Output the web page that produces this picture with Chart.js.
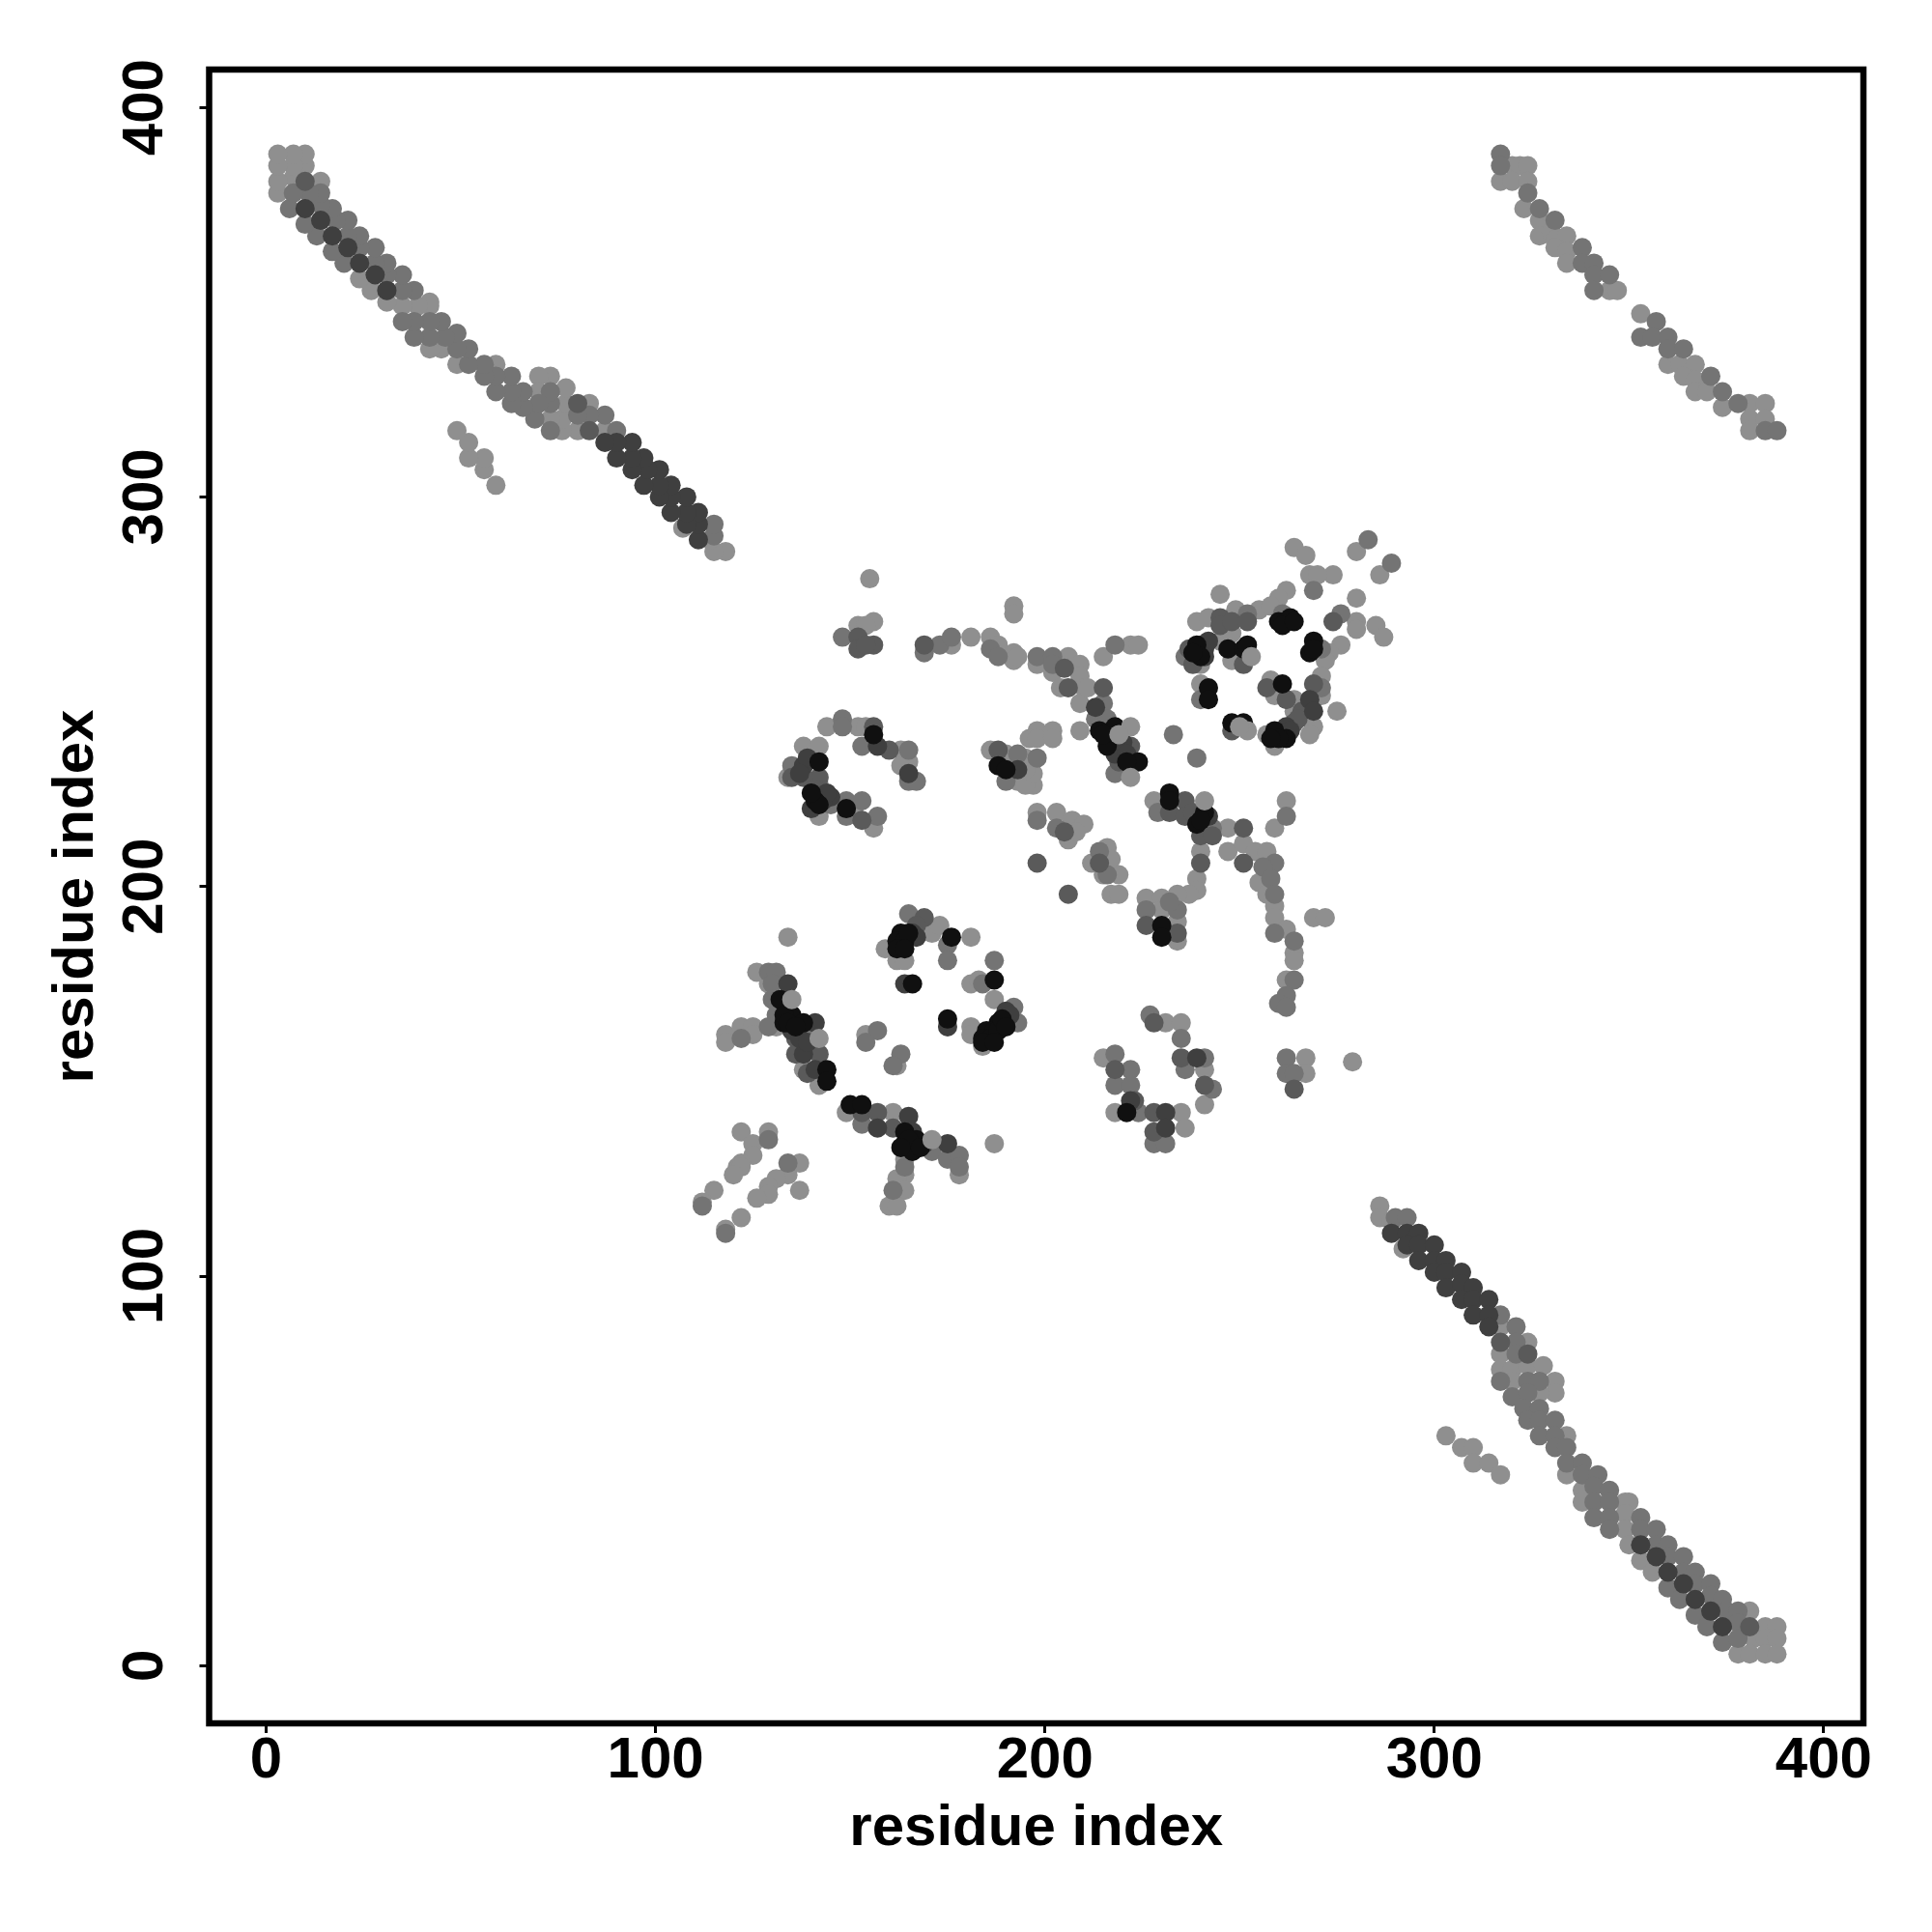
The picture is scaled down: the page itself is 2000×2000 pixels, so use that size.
<!DOCTYPE html>
<html>
<head>
<meta charset="utf-8">
<title>residue contact map</title>
<script src="https://cdn.jsdelivr.net/npm/chart.js@4"></script>
<style>
  html, body { margin: 0; padding: 0; background: #fff; }
  canvas { display: block; }
</style>
</head>
<body>
<canvas id="myChart" width="2000" height="2000"></canvas>
<script>
var tickValues = [0, 100, 200, 300, 400];
var axisTitle = 'residue index';

// points, [x, y], one list per grey level
var light = [
  // top left band
  [118,286],[115,286],[114,289],[107,292],[87,317],[83,324],[80,317],[76,317],[76,320],[77,324],[77,328],[73,331],[70,331],[73,320],[70,327],[59,334],[49,334],[45,338],[42,338],[42,349],[42,350],[39,349],[35,349],[31,350],[27,353],[24,356],[14,381],[10,385],[10,388],[7,382],[7,385],[7,388],[3,378],[3,381],[3,385],[3,388],
  [59,303],[56,307],[56,310],[52,310],[52,314],[49,317],
  // bottom right band
  [286,118],[286,115],[289,114],[292,107],[317,87],[324,83],[317,80],[317,76],[320,76],[324,77],[328,77],[331,73],[331,70],[320,73],[327,70],[334,59],[334,49],[338,45],[338,42],[349,42],[350,42],[349,39],[349,35],[350,31],[353,27],[356,24],[381,14],[385,10],[388,10],[382,7],[385,7],[388,7],[378,3],[381,3],[385,3],[388,3],
  [303,59],[307,56],[310,56],[310,52],[314,52],[317,49],
  // top right band
  [320,385],[322,385],[324,385],[317,381],[320,381],[324,381],[323,374],[327,371],[327,367],[330,368],[331,366],[334,367],[331,364],[334,363],[334,360],[345,353],[347,353],[353,347],[360,334],[363,334],[367,334],[364,331],[367,330],[367,327],[370,327],[374,323],[381,324],[385,324],[381,320],[385,320],[381,317],
  // centre, upper left
  [155,279],[152,267],[156,268],[154,267],[176,262],[192,272],[192,270],[181,264],[186,264],[188,262],[192,260],[192,258],[193,259],[198,257],[202,255],[206,259],[209,257],[209,254],[204,251],[210,251],[209,247],[211,251],[215,259],[222,262],[224,262],
  [198,240],[196,238],[198,238],[202,240],[202,238],[209,240],[186,235],[190,234],[195,233],[193,227],[197,226],[195,226],[197,229],[191,231],[195,230],
  [198,219],[203,219],[207,217],[206,212],[210,216],[208,214],[216,210],[212,206],[217,207],[215,203],[219,203],[217,198],[219,198],
  [144,241],[152,241],[154,241],[163,235],[165,232],[163,231],[138,236],[142,236],[134,228],[142,218],[156,215],[151,220],
  // centre, upper right
  [264,287],[267,285],[280,286],[286,280],[274,280],[268,280],[270,280],[262,276],[260,274],[245,275],[280,274],[239,268],[242,269],[249,271],[255,271],[258,272],[280,268],[280,266],[285,267],[287,264],
  [240,257],[245,263],[248,265],[248,258],[276,262],[273,260],[272,258],[271,254],[271,249],[269,241],[268,239],[275,245],[240,252],[258,253],[259,249],[264,248],[264,245],[257,239],[259,236],
  [228,222],[247,215],[247,209],[251,211],[254,209],[257,209],[255,201],[257,198],[262,222],[259,215],[240,209],[239,202],[239,199],[237,198],[259,195],
  [226,197],[230,197],[230,194],[234,198],[234,191],[234,186],[259,192],[262,189],[264,183],[264,181],[262,176],[269,192],[272,192],
  // centre, lower right
  [231,165],[235,165],[241,153],[241,144],[215,156],[218,142],[235,142],[236,138],[267,156],[267,152],[279,155],
  // centre, lower left
  [134,187],[126,178],[129,175],[131,164],[118,162],[118,160],[122,164],[125,164],[125,162],[154,162],[162,154],[138,153],[142,149],
  [159,184],[162,181],[164,181],[171,188],[173,190],[181,187],[181,175],[183,176],[187,171],[181,164],[181,162],[184,159],
  [149,142],[161,142],[178,126],[164,130],[164,126],[162,125],[164,122],[160,118],[162,118],[187,134],
  [122,137],[129,137],[125,134],[125,131],[122,129],[121,128],[122,128],[120,126],[137,129],[134,126],[131,125],[129,123],[129,121],[126,120],[137,122],[115,122],[112,119],[122,115],[118,112]
];
var mid = [
  // top left band
  [115,290],[115,293],[90,317],[87,321],[83,321],[80,321],[73,317],[73,324],[73,327],[69,320],[70,324],[66,323],[66,327],[63,324],[63,327],[63,331],[59,327],[59,331],[56,331],[56,334],[52,334],[52,338],[49,338],[49,342],[46,341],[45,345],[42,341],[42,345],[38,341],[38,345],[35,345],[38,353],[35,353],[35,357],[31,353],[31,357],[31,360],[28,360],[28,364],[24,364],[24,367],[20,360],[21,367],[21,371],[17,363],[18,371],[17,374],[13,367],[14,375],[14,378],[10,370],[11,378],[6,374],[7,378],
  // bottom right band
  [290,115],[293,115],[317,90],[321,87],[321,83],[321,80],[317,73],[324,73],[327,73],[320,69],[324,70],[323,66],[327,66],[324,63],[327,63],[331,63],[327,59],[331,59],[331,56],[334,56],[334,52],[338,52],[338,49],[342,49],[341,46],[345,45],[341,42],[345,42],[341,38],[345,38],[345,35],[353,38],[353,35],[357,35],[353,31],[357,31],[360,31],[360,28],[364,28],[364,24],[367,24],[360,20],[367,21],[371,21],[363,17],[371,18],[374,17],[367,13],[375,14],[378,14],[370,10],[378,11],[374,6],[378,7],
  // top right band
  [317,388],[317,385],[324,378],[327,374],[331,371],[338,364],[338,360],[341,360],[341,357],[345,357],[341,353],[353,341],[357,345],[356,341],[360,341],[360,338],[364,338],[371,331],[374,327],[378,324],[385,317],[388,317],
  // centre, upper left
  [148,264],[169,260],[173,262],[176,264],[186,261],[188,259],[198,259],[202,259],[202,257],[215,247],[213,243],[216,243],[218,229],[218,262],
  [193,234],[198,233],[190,227],[198,217],[203,215],[214,209],[216,203],
  [148,243],[148,241],[153,236],[165,235],[165,227],[167,227],[135,231],[142,226],[145,221],[149,222],[149,218],[153,222],[157,218],
  // centre, upper right
  [283,289],[289,283],[269,276],[252,270],[261,270],[276,270],[236,259],[271,261],[271,251],[240,248],[229,219],[243,215],[259,206],[256,205],[258,202],[259,198],[262,218],
  [233,239],[239,233],[226,194],[234,194],[232,196],[259,188],[264,186],[264,176],[262,172],[260,170],[262,169],
  // centre, lower right
  [227,167],[235,161],[236,153],[241,156],[243,148],[218,157],[222,153],[218,149],[222,149],[224,142],[228,134],[231,134],[262,156],[262,152],[264,152],
  // centre, lower left
  [129,178],[131,178],[130,175],[130,171],[131,167],[138,163],[122,161],[129,164],[157,163],[154,160],[163,157],[161,154],
  [165,193],[175,185],[175,181],[187,181],[184,175],[192,169],[193,165],
  [153,139],[171,132],[175,130],[178,131],[178,128],[164,128],[161,122],[129,135],[134,129],[112,118],[118,111]
];
var semi = [
  [317,83],[324,80],[381,10],[83,317],[80,324],[10,381],
  [152,264],[152,261],[156,262],[154,262],[169,262],[205,256],[206,251],[215,251],[222,236],[219,232],[188,235],[198,206],[206,198],[205,214],[214,206],[156,241],[160,235],[142,228],[135,228],[138,228],[141,225],[153,217],
  [245,269],[245,267],[248,268],[252,268],[274,268],[238,257],[251,257],[269,252],[257,251],[262,248],[266,245],[248,240],[264,242],[232,219],[236,222],[236,218],[240,213],[251,215],[251,206],[240,206],
  [226,190],[234,188],[264,148],[228,165],[235,156],[241,149],[218,153],[223,145],[228,142],[228,137],
  [136,161],[142,157],[136,157],[139,152],[169,192],[167,190],[153,142],[157,142],[161,138],
  [237,261],[265,243],[219,236],[243,213],[238,219]
];
var dark = [
  // top left band
  [111,289],[111,293],[111,296],[108,293],[108,296],[108,300],[104,296],[104,300],[104,303],[101,300],[101,303],[101,307],[97,303],[98,307],[97,310],[94,307],[94,310],[94,314],[90,310],[90,314],[87,314],[31,353],[28,357],[24,360],[21,364],[17,367],[14,371],[10,374],
  // bottom right band
  [289,111],[293,111],[296,111],[293,108],[296,108],[300,108],[296,104],[300,104],[303,104],[300,101],[303,101],[307,101],[303,97],[307,98],[310,97],[307,94],[310,94],[314,94],[310,90],[314,90],[314,87],[353,31],[357,28],[360,24],[364,21],[367,17],[371,14],[374,10],
  // centre
  [213,246],[218,234],[193,230],[157,236],[138,231],[145,223],[165,229],[241,261],[268,248],[269,245],[262,241],[231,142],[231,138],[239,156],[222,145],[134,175],[141,165],[138,157],[141,153],[166,188],[157,138],[165,141],[175,134],[164,175],[175,164],[190,168],
  [240,262],[242,263],[241,259],[261,239],[263,240],[167,187],[163,187],[191,167],[166,137],[169,134],[135,163],[137,161],[139,160],[217,240],[220,237],[221,234],[242,218],[143,222],[144,224],[140,220],[139,233],[137,229]
];
var black = [
  [218,241],[214,240],[224,232],[221,232],[188,231],[190,230],[156,239],[142,232],[141,222],[142,221],[149,220],
  [263,269],[260,268],[262,268],[239,262],[240,259],[247,261],[251,261],[252,262],[269,263],[268,260],[242,251],[242,248],[261,252],[248,242],[251,242],[259,240],[262,238],[232,224],[232,222],[241,219],[239,216],[230,190],[230,187],[221,142],
  [132,171],[135,167],[133,165],[138,165],[144,153],[144,150],[163,188],[163,185],[162,186],[176,187],[166,175],[187,176],[188,165],[185,163],[187,163],[184,161],[186,161],[175,166],[150,144],[153,144],[164,137],[164,134],[167,135],[166,132],
  [238,260],[260,238],[258,238],[269,261],[261,267],[264,268],[164,186],[165,188],[162,184],[164,184],[188,163],[184,160],[187,160],[189,166],[190,164],[165,135],[163,133],[168,133],[133,167],[134,165],[136,164],[216,236],[215,239],[240,217],[140,224]
];
var lightTop = [
  [222,241],[219,239],[222,228],[253,259],[252,240],[250,241],[241,222],[135,171],[142,161],[171,135]
];

var shades = [
  { points: light, color: '#8f8f8f', order: 6 },
  { points: mid, color: '#747474', order: 5 },
  { points: semi, color: '#5a5a5a', order: 4 },
  { points: dark, color: '#3f3f3f', order: 3 },
  { points: black, color: '#101010', order: 2 },
  { points: lightTop, color: '#8f8f8f', order: 1 }
];

var datasets = shades.map(function (s) {
  return {
    data: s.points.map(function (p) { return { x: p[0], y: p[1] }; }),
    backgroundColor: s.color,
    borderWidth: 0,
    pointRadius: 10,
    order: s.order
  };
});

// box round the plot, R style
var boxPlugin = {
  id: 'box',
  afterDraw: function (chart) {
    var a = chart.chartArea, ctx = chart.ctx;
    ctx.save();
    ctx.strokeStyle = '#000';
    ctx.lineWidth = 6.5;
    ctx.strokeRect(a.left, a.top, a.right - a.left, a.bottom - a.top);
    ctx.restore();
  }
};

function useTicks(scale) {
  scale.ticks = tickValues.map(function (v) { return { value: v }; });
}

var font = 'Liberation Sans';

new Chart(document.getElementById('myChart').getContext('2d'), {
  type: 'scatter',
  data: { datasets: datasets },
  plugins: [boxPlugin],
  options: {
    responsive: false,
    devicePixelRatio: 1,
    animation: false,
    layout: { padding: { left: 0, top: 72, right: 71, bottom: 0 } },
    plugins: { legend: { display: false }, tooltip: { enabled: false } },
    scales: {
      x: {
        type: 'linear',
        min: -14.64,
        max: 410.2,
        afterBuildTicks: useTicks,
        afterFit: function (scale) { scale.height = 216; },
        grid: { drawOnChartArea: false, drawTicks: true, tickLength: 10, tickWidth: 3, tickColor: '#000' },
        border: { display: false },
        ticks: { color: '#000', padding: -7, maxRotation: 0, minRotation: 0, autoSkip: false, font: { family: font, weight: 'bold', size: 60 } },
        title: { display: true, text: axisTitle, color: '#000', padding: { top: 0, bottom: 71 }, font: { family: font, weight: 'bold', size: 60 } }
      },
      y: {
        type: 'linear',
        min: -14.8,
        max: 409.7,
        afterBuildTicks: useTicks,
        afterFit: function (scale) { scale.width = 216.5; },
        grid: { drawOnChartArea: false, drawTicks: true, tickLength: 10, tickWidth: 3, tickColor: '#000' },
        border: { display: false },
        ticks: { color: '#000', padding: 5, minRotation: 90, maxRotation: 90, crossAlign: 'center', autoSkip: false, font: { family: font, weight: 'bold', size: 60 } },
        title: { display: true, text: axisTitle, color: '#000', padding: { top: 43, bottom: 0 }, font: { family: font, weight: 'bold', size: 60 } }
      }
    }
  }
});
</script>
</body>
</html>
